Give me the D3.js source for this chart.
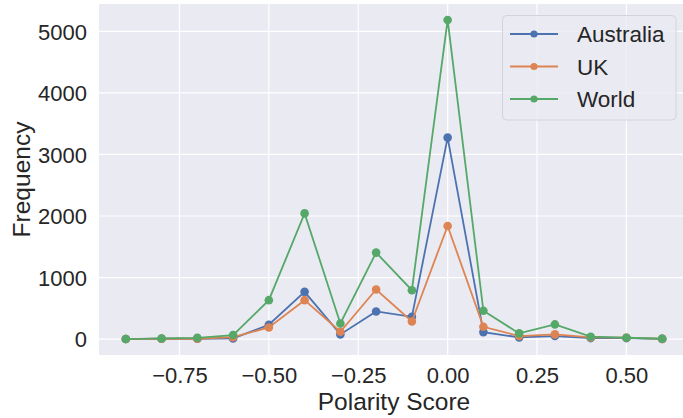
<!DOCTYPE html>
<html>
<head>
<meta charset="utf-8">
<script src="https://cdn.jsdelivr.net/npm/d3@7"></script>
<style>
  html, body { margin: 0; padding: 0; background: #ffffff; }
  svg { display: block; font-family: "Liberation Sans", Arial, sans-serif; }
</style>
</head>
<body>
<svg id="chart" width="683" height="418"></svg>
<script>
const polarity = [-0.9, -0.8, -0.7, -0.6, -0.5, -0.4, -0.3, -0.2, -0.1, 0.0, 0.1, 0.2, 0.3, 0.4, 0.5, 0.6];
const australia = [0, 5, 5, 10, 232, 767, 76, 449, 361, 3274, 113, 27, 49, 16, 16, 3];
const uk =        [0, 5, 5, 32, 189, 632, 119, 805, 286, 1837, 200, 49, 76, 27, 22, 3];
const world =     [0, 10, 20, 65, 632, 2042, 254, 1405, 794, 5186, 459, 92, 238, 38, 21, 5];
const seriesNames = ["Australia", "UK", "World"];
const seriesColors = ["#4c72b0", "#dd8452", "#55a868"];
const xTicks = [-0.75, -0.5, -0.25, 0.0, 0.25, 0.5];
const yTicks = [0, 1000, 2000, 3000, 4000, 5000];

const series = [australia, uk, world];
const svg = d3.select("#chart");
const L = 99, R = 689, T = 4, B = 355;

const x = d3.scaleLinear().domain([-0.975, 0.675]).range([L, R]);
const y = d3.scaleLinear().domain([-259, 5445]).range([B, T]);

svg.append("rect").attr("x", L).attr("y", T).attr("width", R - L).attr("height", B - T).attr("fill", "#eaeaf2");

const g = svg.append("g");
// grid
g.selectAll(".gx").data(xTicks).enter().append("line")
  .attr("x1", d => x(d)).attr("x2", d => x(d)).attr("y1", T).attr("y2", B)
  .attr("stroke", "#ffffff").attr("stroke-width", 1.2);
g.selectAll(".gy").data(yTicks).enter().append("line")
  .attr("x1", L).attr("x2", R).attr("y1", d => y(d)).attr("y2", d => y(d))
  .attr("stroke", "#ffffff").attr("stroke-width", 1.2);

// axes (tick labels only)
const xAxis = d3.axisBottom(x).tickValues(xTicks).tickSize(0).tickPadding(0)
  .tickFormat(d => d3.format(".2f")(d).replace("-", "\u2212"));
const xg = svg.append("g").attr("transform", `translate(0,${B})`).call(xAxis);
xg.select(".domain").remove();
xg.selectAll("text").attr("font-size", 22).attr("fill", "#262626")
  .attr("font-family", "Liberation Sans, Arial, sans-serif").attr("y", 28).attr("dy", "0");

const yAxis = d3.axisLeft(y).tickValues(yTicks).tickSize(0).tickPadding(12)
  .tickFormat(d3.format("d"));
const yg = svg.append("g").attr("transform", `translate(${L},0)`).call(yAxis);
yg.select(".domain").remove();
yg.selectAll("text").attr("font-size", 22).attr("fill", "#262626")
  .attr("font-family", "Liberation Sans, Arial, sans-serif").attr("dy", "0.36em");

// axis labels
svg.append("text").attr("x", (L + R) / 2).attr("y", 410).attr("text-anchor", "middle")
  .attr("font-size", 24.5).attr("fill", "#262626").text("Polarity Score");
svg.append("text").attr("transform", `translate(30,${(T + B) / 2}) rotate(-90)`)
  .attr("text-anchor", "middle").attr("font-size", 24.5).attr("fill", "#262626").text("Frequency");

// lines
const line = d3.line().x((d, i) => x(polarity[i])).y(d => y(d));
series.forEach((s, k) => {
  const sg = svg.append("g");
  sg.append("path").datum(s).attr("d", line).attr("fill", "none")
    .attr("stroke", seriesColors[k]).attr("stroke-width", 1.8);
  sg.selectAll("circle").data(s).enter().append("circle")
    .attr("cx", (d, i) => x(polarity[i])).attr("cy", d => y(d)).attr("r", 4.3)
    .attr("fill", seriesColors[k]);
});

// legend
const lg = svg.append("g");
lg.append("rect").attr("x", 502.5).attr("y", 15.5).attr("width", 173.5).attr("height", 104.5)
  .attr("rx", 4).attr("fill", "#eaeaf2").attr("fill-opacity", 0.8)
  .attr("stroke", "#d4d4d8").attr("stroke-width", 1);
seriesNames.forEach((n, k) => {
  const yy = 34 + k * 32.5;
  lg.append("line").attr("x1", 510).attr("x2", 558).attr("y1", yy).attr("y2", yy)
    .attr("stroke", seriesColors[k]).attr("stroke-width", 1.8);
  lg.append("circle").attr("cx", 534).attr("cy", yy).attr("r", 3.6).attr("fill", seriesColors[k]);
  lg.append("text").attr("x", 577).attr("y", yy).attr("dy", "0.36em")
    .attr("font-size", 22.5).attr("fill", "#262626").text(n);
});
</script>
</body>
</html>
